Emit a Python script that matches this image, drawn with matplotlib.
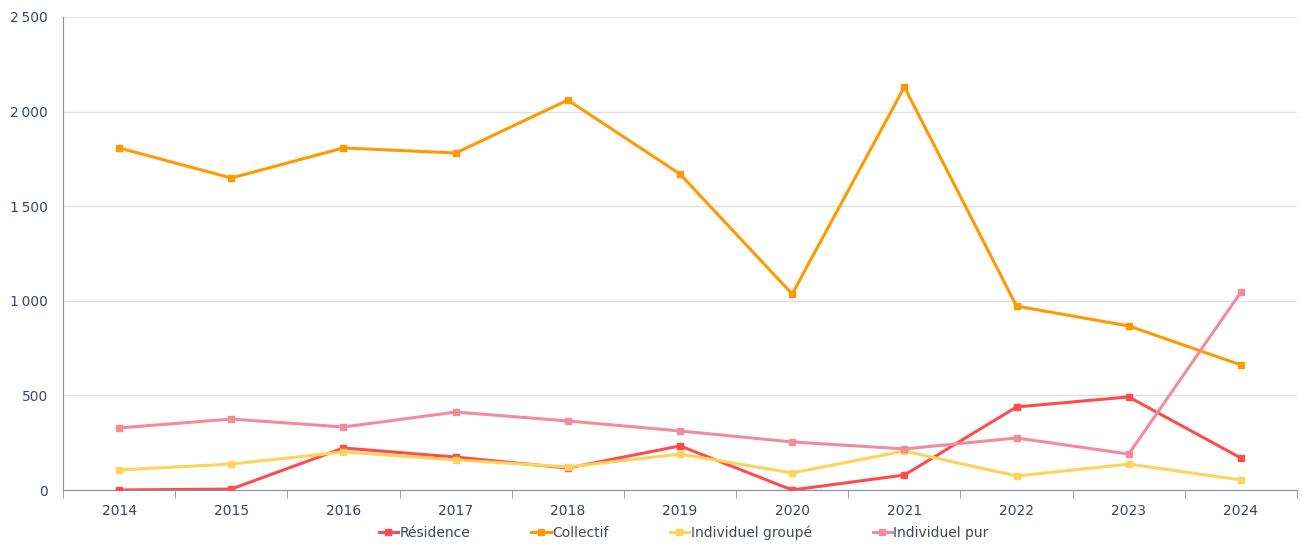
import matplotlib
matplotlib.use("Agg")
import numpy as np
import matplotlib.pyplot as plt
from matplotlib.ticker import FuncFormatter, FixedLocator

years = ["2014", "2015", "2016", "2017", "2018", "2019", "2020", "2021", "2022", "2023", "2024"]

residence = [0, 5, 222, 174, 116, 233, 0, 79, 439, 492, 169]
collectif = [1808, 1649, 1808, 1781, 2061, 1670, 1036, 2130, 972, 867, 661]
indiv_groupe = [106, 137, 201, 159, 122, 190, 90, 206, 74, 137, 53]
indiv_pur = [328, 375, 333, 412, 365, 312, 254, 217, 275, 190, 1046]

series = [
    ("Résidence", residence, "#ff4b4b"),
    ("Collectif", collectif, "#ff9900"),
    ("Individuel groupé", indiv_groupe, "#ffd25a"),
    ("Individuel pur", indiv_pur, "#f28b9b"),
]

txt = "#3b4668"
axc = "#8a8fa8"

fig = plt.figure(figsize=(13.03, 5.46), dpi=100)
ax = fig.add_axes([63 / 1303, 1 - 490 / 546, 1234 / 1303, 473 / 546])

x = np.arange(len(years))
for name, vals, col in series:
    ax.plot(x, vals, color=col, lw=2.2, marker="s", ms=5, label=name, zorder=3)

ax.set_xlim(-0.5, len(years) - 0.5)
ax.set_ylim(0, 2500)
ax.set_yticks(np.arange(0, 2501, 500))
# thousands separated by a narrow space
ax.yaxis.set_major_formatter(FuncFormatter(lambda v, p: f"{int(v):,}".replace(",", "\u2009")))
ax.set_xticks(x)
ax.set_xticklabels(years)
ax.xaxis.set_minor_locator(FixedLocator(np.arange(-0.5, len(years), 1)))
ax.tick_params(axis="x", which="major", length=0, pad=10, labelsize=10, labelcolor=txt)
ax.tick_params(axis="x", which="minor", length=6, color=axc, direction="out")
ax.tick_params(axis="y", length=0, pad=11, labelsize=10, labelcolor=txt)

ax.grid(axis="y", color="#e0e0e0", lw=1, zorder=0)
for s in ["top", "right"]:
    ax.spines[s].set_visible(False)
ax.spines["left"].set_color(axc)
ax.spines["bottom"].set_color(axc)

leg = ax.legend(loc="center", bbox_to_anchor=(0.503, -0.091), ncol=4, frameon=False,
                fontsize=10, handlelength=1.4, handletextpad=0.1, columnspacing=4.4,
                borderpad=0)
for t in leg.get_texts():
    t.set_color(txt)

fig.savefig("out.png", dpi=100)
